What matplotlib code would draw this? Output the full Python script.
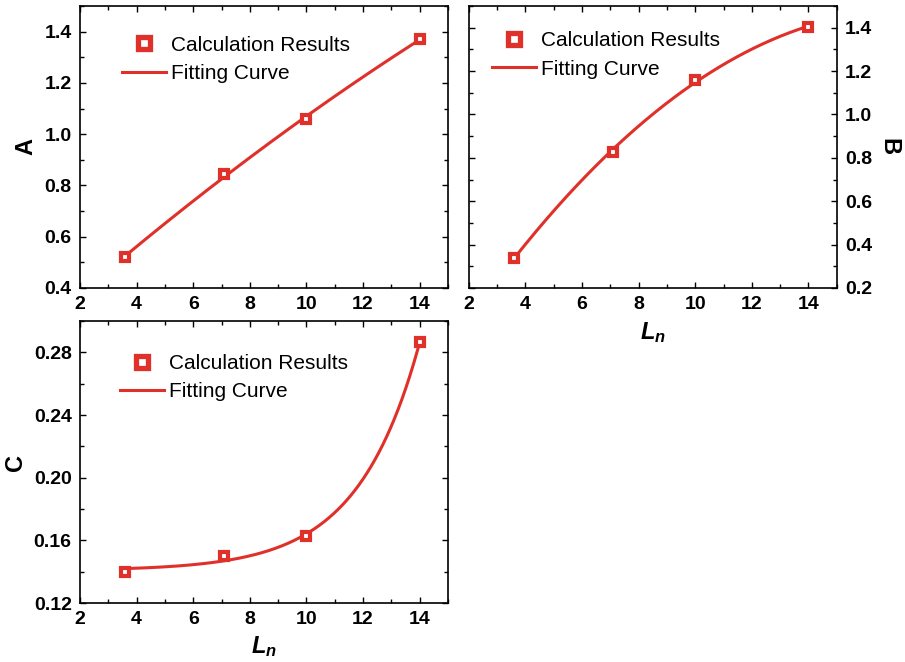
import numpy as np
import matplotlib
matplotlib.use("Agg")
import matplotlib.pyplot as plt
from matplotlib.lines import Line2D
from matplotlib.ticker import MultipleLocator

# data
ln = [3.6, 7.1, 10.0, 14.0]
a_vals = [0.522, 0.844, 1.06, 1.371]
b_vals = [0.340, 0.828, 1.159, 1.404]
c_vals = [0.140, 0.150, 0.163, 0.2864]

RED = "#e0302a"

plt.rcParams["font.family"] = ["Liberation Sans", "DejaVu Sans"]
plt.rcParams["mathtext.fontset"] = "custom"
plt.rcParams["mathtext.it"] = "Liberation Sans:italic:bold"
plt.rcParams["mathtext.rm"] = "Liberation Sans:bold"


def exp_fit(x, y):
    # y = y0 + a*exp(x/t), brute force on t, linear least squares for y0, a
    x = np.asarray(x)
    y = np.asarray(y)
    best = None
    for t in np.linspace(0.5, 10, 400):
        m = np.column_stack([np.ones_like(x), np.exp(x / t)])
        coef, *_ = np.linalg.lstsq(m, y, rcond=None)
        err = np.sum((m @ coef - y) ** 2)
        if best is None or err < best[0]:
            best = (err, t, coef)
    _, t, coef = best
    return lambda xx: coef[0] + coef[1] * np.exp(xx / t)


def style_axes(ax, ylo, yhi, ymaj, right=False):
    ax.set_xlim(2, 15)
    ax.set_ylim(ylo, yhi)
    ax.xaxis.set_major_locator(MultipleLocator(2))
    ax.xaxis.set_minor_locator(MultipleLocator(1))
    ax.yaxis.set_major_locator(MultipleLocator(ymaj))
    ax.yaxis.set_minor_locator(MultipleLocator(ymaj / 2))
    ax.tick_params(which="both", direction="in", top=True, right=True, width=1.0)
    ax.tick_params(which="major", length=4.5)
    ax.tick_params(which="minor", length=3)
    ax.tick_params(labelsize=14, pad=6)
    if right:
        ax.tick_params(labelleft=False, labelright=True)
    for lab in ax.get_xticklabels() + ax.get_yticklabels():
        lab.set_fontweight("bold")
    for sp in ax.spines.values():
        sp.set_linewidth(1.2)


def add_legend(ax, x0, y0):
    handles = [
        Line2D([], [], ls="none", marker="s", ms=8.5, mew=3.8, mfc="white", mec=RED),
        Line2D([], [], color=RED, lw=2.2),
    ]
    ax.legend(handles, ["Calculation Results", "Fitting Curve"], loc="upper left",
              bbox_to_anchor=(x0, y0), frameon=False, fontsize=15, handlelength=2.1,
              handletextpad=0.25, labelspacing=0.45, borderpad=0, borderaxespad=0)


def draw(ax, y, fit):
    xs = np.linspace(min(ln), max(ln), 300)
    ax.plot(xs, fit(xs), color=RED, lw=2.2, zorder=2)
    ax.plot(ln, y, ls="none", marker="s", ms=6.2, mew=3.0, mfc="white", mec=RED, zorder=3)


fig = plt.figure(figsize=(9.05, 6.62), dpi=100)
ax_a = fig.add_axes([0.0884, 0.565, 0.4066, 0.426])
ax_b = fig.add_axes([0.518, 0.565, 0.4066, 0.426])
ax_c = fig.add_axes([0.0884, 0.0891, 0.4066, 0.426])

draw(ax_a, a_vals, np.poly1d(np.polyfit(ln, a_vals, 2)))
draw(ax_b, b_vals, np.poly1d(np.polyfit(ln, b_vals, 2)))
draw(ax_c, c_vals, exp_fit(ln, c_vals))

style_axes(ax_a, 0.4, 1.5, 0.2)
style_axes(ax_b, 0.2, 1.5, 0.2, right=True)
style_axes(ax_c, 0.12, 0.30, 0.04)

add_legend(ax_a, 0.114, 0.895)
add_legend(ax_b, 0.0625, 0.91)
add_legend(ax_c, 0.109, 0.883)

ax_a.set_ylabel("A", fontsize=17, fontweight="bold", labelpad=5)
ax_c.set_ylabel("C", fontsize=17, fontweight="bold", labelpad=5)
ax_b.yaxis.set_label_position("right")
ax_b.set_ylabel("B", fontsize=17, fontweight="bold", rotation=270, labelpad=20)
ax_b.set_xlabel(r"$L_n$", fontsize=17, labelpad=5)
ax_c.set_xlabel(r"$L_n$", fontsize=17, labelpad=4)

fig.savefig("out.png", dpi=100)
